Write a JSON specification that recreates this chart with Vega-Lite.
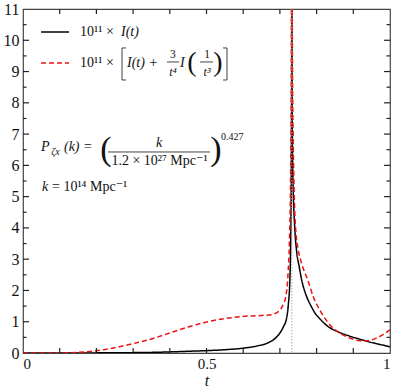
{
  "$schema": "https://vega.github.io/schema/vega-lite/v6.json",
  "width": 367,
  "height": 344,
  "autosize": {"type": "none"},
  "padding": {"left": 23, "top": 9, "right": 8, "bottom": 39},
  "background": "white",
  "config": {
    "view": {"stroke": "#444", "strokeWidth": 1.2},
    "font": "Liberation Serif, DejaVu Serif, serif",
    "axis": {"grid": false, "domain": false, "labelFont": "Liberation Serif, DejaVu Serif, serif", "labelColor": "#111", "titleFont": "Liberation Serif, DejaVu Serif, serif"},
    "text": {"font": "Liberation Serif, DejaVu Serif, serif", "color": "#111"}
  },
  "resolve": {"axis": {"x": "independent", "y": "independent"}},
  "layer": [
    {
      "data": {"values": [
        {"s": "I", "t": 0, "v": 0}, {"s": "I", "t": 0.1, "v": 0.001}, {"s": "I", "t": 0.2, "v": 0.004}, {"s": "I", "t": 0.3, "v": 0.012}, {"s": "I", "t": 0.35, "v": 0.02}, {"s": "I", "t": 0.4, "v": 0.035}, {"s": "I", "t": 0.45, "v": 0.055}, {"s": "I", "t": 0.5, "v": 0.075}, {"s": "I", "t": 0.55, "v": 0.105}, {"s": "I", "t": 0.6, "v": 0.155}, {"s": "I", "t": 0.64, "v": 0.23}, {"s": "I", "t": 0.67, "v": 0.34}, {"s": "I", "t": 0.69, "v": 0.5}, {"s": "I", "t": 0.7, "v": 0.64}, {"s": "I", "t": 0.71, "v": 0.85}, {"s": "I", "t": 0.718, "v": 1.1}, {"s": "I", "t": 0.723, "v": 1.55}, {"s": "I", "t": 0.727, "v": 2.3}, {"s": "I", "t": 0.7295, "v": 3.6}, {"s": "I", "t": 0.731, "v": 5.5}, {"s": "I", "t": 0.732, "v": 9}, {"s": "I", "t": 0.7325, "v": 16}, {"s": "I", "t": 0.733, "v": 10}, {"s": "I", "t": 0.734, "v": 7}, {"s": "I", "t": 0.736, "v": 5.3}, {"s": "I", "t": 0.738, "v": 4.6}, {"s": "I", "t": 0.741, "v": 3.9}, {"s": "I", "t": 0.746, "v": 3.2}, {"s": "I", "t": 0.752, "v": 2.8}, {"s": "I", "t": 0.76, "v": 2.3}, {"s": "I", "t": 0.773, "v": 1.8}, {"s": "I", "t": 0.785, "v": 1.5}, {"s": "I", "t": 0.796, "v": 1.27}, {"s": "I", "t": 0.81, "v": 1.08}, {"s": "I", "t": 0.832, "v": 0.84}, {"s": "I", "t": 0.86, "v": 0.67}, {"s": "I", "t": 0.89, "v": 0.54}, {"s": "I", "t": 0.918, "v": 0.44}, {"s": "I", "t": 0.945, "v": 0.35}, {"s": "I", "t": 0.97, "v": 0.28}, {"s": "I", "t": 1.0, "v": 0.2},
        {"s": "Isym", "t": 0, "v": 0}, {"s": "Isym", "t": 0.1, "v": 0.003}, {"s": "Isym", "t": 0.15, "v": 0.02}, {"s": "Isym", "t": 0.2, "v": 0.07}, {"s": "Isym", "t": 0.25, "v": 0.17}, {"s": "Isym", "t": 0.3, "v": 0.3}, {"s": "Isym", "t": 0.35, "v": 0.45}, {"s": "Isym", "t": 0.4, "v": 0.64}, {"s": "Isym", "t": 0.45, "v": 0.83}, {"s": "Isym", "t": 0.5, "v": 0.99}, {"s": "Isym", "t": 0.55, "v": 1.1}, {"s": "Isym", "t": 0.6, "v": 1.17}, {"s": "Isym", "t": 0.65, "v": 1.2}, {"s": "Isym", "t": 0.68, "v": 1.23}, {"s": "Isym", "t": 0.69, "v": 1.28}, {"s": "Isym", "t": 0.7, "v": 1.37}, {"s": "Isym", "t": 0.71, "v": 1.58}, {"s": "Isym", "t": 0.716, "v": 1.8}, {"s": "Isym", "t": 0.722, "v": 2.5}, {"s": "Isym", "t": 0.7267, "v": 3.9}, {"s": "Isym", "t": 0.729, "v": 5.5}, {"s": "Isym", "t": 0.731, "v": 8.5}, {"s": "Isym", "t": 0.7325, "v": 16}, {"s": "Isym", "t": 0.734, "v": 10}, {"s": "Isym", "t": 0.736, "v": 7}, {"s": "Isym", "t": 0.738, "v": 5.6}, {"s": "Isym", "t": 0.743, "v": 3.95}, {"s": "Isym", "t": 0.75, "v": 3.3}, {"s": "Isym", "t": 0.759, "v": 2.87}, {"s": "Isym", "t": 0.776, "v": 2.33}, {"s": "Isym", "t": 0.791, "v": 1.8}, {"s": "Isym", "t": 0.814, "v": 1.27}, {"s": "Isym", "t": 0.841, "v": 0.84}, {"s": "Isym", "t": 0.86, "v": 0.66}, {"s": "Isym", "t": 0.877, "v": 0.55}, {"s": "Isym", "t": 0.9, "v": 0.44}, {"s": "Isym", "t": 0.918, "v": 0.39}, {"s": "Isym", "t": 0.935, "v": 0.39}, {"s": "Isym", "t": 0.96, "v": 0.46}, {"s": "Isym", "t": 0.98, "v": 0.58}, {"s": "Isym", "t": 1.0, "v": 0.74}
      ]},
      "mark": {"type": "line", "strokeWidth": 1.5, "interpolate": "monotone", "clip": true},
      "encoding": {
        "x": {"field": "t", "type": "quantitative", "scale": {"domain": [0, 1], "nice": false, "zero": false},
              "axis": {"orient": "bottom", "values": [0, 0.5, 1], "format": "~g", "ticks": false, "labelFontSize": 15, "labelPadding": 3, "title": "t", "titleFontStyle": "italic", "titleFontWeight": "normal", "titleFontSize": 16, "titlePadding": 1, "titleColor": "#111"}},
        "y": {"field": "v", "type": "quantitative", "scale": {"domain": [0, 11], "nice": false, "zero": false},
              "axis": {"orient": "left", "values": [0, 1, 2, 3, 4, 5, 6, 7, 8, 9, 10, 11], "format": "d", "ticks": false, "labelFontSize": 16, "labelPadding": 4, "title": null}},
        "color": {"field": "s", "type": "nominal", "scale": {"domain": ["I", "Isym"], "range": ["#000000", "#ee1111"]}, "legend": null},
        "strokeDash": {"field": "s", "type": "nominal", "scale": {"domain": ["I", "Isym"], "range": [[1, 0], [5, 3]]}, "legend": null}
      }
    },
    {
      "data": {"values": [{"t": 0.1}, {"t": 0.2}, {"t": 0.3}, {"t": 0.4}, {"t": 0.5}, {"t": 0.6}, {"t": 0.7}, {"t": 0.8}, {"t": 0.9}]},
      "mark": {"type": "tick", "orient": "vertical", "size": 5, "thickness": 1.2, "color": "#222", "yOffset": -2.5, "opacity": 1},
      "encoding": {
        "x": {"field": "t", "type": "quantitative", "axis": null},
        "y": {"datum": 0, "type": "quantitative", "axis": null}
      }
    },
    {
      "data": {"values": [{"t": 0.1}, {"t": 0.2}, {"t": 0.3}, {"t": 0.4}, {"t": 0.5}, {"t": 0.6}, {"t": 0.7}, {"t": 0.8}, {"t": 0.9}]},
      "mark": {"type": "tick", "orient": "vertical", "size": 5, "thickness": 1.2, "color": "#222", "yOffset": 2.5, "opacity": 1},
      "encoding": {
        "x": {"field": "t", "type": "quantitative", "axis": null},
        "y": {"datum": 11, "type": "quantitative", "axis": null}
      }
    },
    {
      "data": {"values": [{"v": 1}, {"v": 2}, {"v": 3}, {"v": 4}, {"v": 5}, {"v": 6}, {"v": 7}, {"v": 8}, {"v": 9}, {"v": 10}]},
      "mark": {"type": "tick", "orient": "horizontal", "size": 6, "thickness": 1.2, "color": "#222", "xOffset": 3, "opacity": 1},
      "encoding": {
        "x": {"datum": 0, "type": "quantitative", "axis": null},
        "y": {"field": "v", "type": "quantitative", "axis": null}
      }
    },
    {
      "data": {"values": [{"v": 1}, {"v": 2}, {"v": 3}, {"v": 4}, {"v": 5}, {"v": 6}, {"v": 7}, {"v": 8}, {"v": 9}, {"v": 10}]},
      "mark": {"type": "tick", "orient": "horizontal", "size": 6, "thickness": 1.2, "color": "#222", "xOffset": -3, "opacity": 1},
      "encoding": {
        "x": {"datum": 1, "type": "quantitative", "axis": null},
        "y": {"field": "v", "type": "quantitative", "axis": null}
      }
    },
    {
      "data": {"values": [{"v": 0.5}, {"v": 1.5}, {"v": 2.5}, {"v": 3.5}, {"v": 4.5}, {"v": 5.5}, {"v": 6.5}, {"v": 7.5}, {"v": 8.5}, {"v": 9.5}, {"v": 10.5}]},
      "mark": {"type": "tick", "orient": "horizontal", "size": 3.5, "thickness": 1.2, "color": "#222", "xOffset": 1.75, "opacity": 1},
      "encoding": {
        "x": {"datum": 0, "type": "quantitative", "axis": null},
        "y": {"field": "v", "type": "quantitative", "axis": null}
      }
    },
    {
      "data": {"values": [{"v": 0.5}, {"v": 1.5}, {"v": 2.5}, {"v": 3.5}, {"v": 4.5}, {"v": 5.5}, {"v": 6.5}, {"v": 7.5}, {"v": 8.5}, {"v": 9.5}, {"v": 10.5}]},
      "mark": {"type": "tick", "orient": "horizontal", "size": 3.5, "thickness": 1.2, "color": "#222", "xOffset": -1.75, "opacity": 1},
      "encoding": {
        "x": {"datum": 1, "type": "quantitative", "axis": null},
        "y": {"field": "v", "type": "quantitative", "axis": null}
      }
    },
    {
      "data": {"values": [{"t": 0.7325}]},
      "mark": {"type": "rule", "color": "#aaa", "strokeWidth": 1, "strokeDash": [1.5, 1.5]},
      "encoding": {
        "x": {"field": "t", "type": "quantitative", "axis": null}
      }
    },
    {
      "data": {"values": [
        {"t1": 0.049, "t2": 0.1253, "v1": 10.265, "v2": 10.265, "s": "I"},
        {"t1": 0.049, "t2": 0.1253, "v1": 9.274, "v2": 9.274, "s": "Isym"}
      ]},
      "mark": {"type": "rule", "strokeWidth": 1.5},
      "encoding": {
        "x": {"field": "t1", "type": "quantitative", "axis": null}, "x2": {"field": "t2"},
        "y": {"field": "v1", "type": "quantitative", "axis": null}, "y2": {"field": "v2"},
        "color": {"field": "s", "type": "nominal", "legend": null},
        "strokeDash": {"field": "s", "type": "nominal", "legend": null}
      }
    },
    {
      "data": {"values": [
        {"t1": 0.2698, "t2": 0.2698, "v1": 9.754, "v2": 8.73},
        {"t1": 0.2698, "t2": 0.2807, "v1": 9.754, "v2": 9.754},
        {"t1": 0.2698, "t2": 0.2807, "v1": 8.73, "v2": 8.73},
        {"t1": 0.5559, "t2": 0.5559, "v1": 9.754, "v2": 8.73},
        {"t1": 0.545, "t2": 0.5559, "v1": 9.754, "v2": 9.754},
        {"t1": 0.545, "t2": 0.5559, "v1": 8.73, "v2": 8.73},
        {"t1": 0.3924, "t2": 0.4251, "v1": 9.306, "v2": 9.306},
        {"t1": 0.4823, "t2": 0.5177, "v1": 9.306, "v2": 9.306},
        {"t1": 0.2316, "t2": 0.5095, "v1": 6.428, "v2": 6.428}
      ]},
      "mark": {"type": "rule", "color": "#111", "strokeWidth": 0.8},
      "encoding": {
        "x": {"field": "t1", "type": "quantitative", "axis": null}, "x2": {"field": "t2"},
        "y": {"field": "v1", "type": "quantitative", "axis": null}, "y2": {"field": "v2"}
      }
    },
    {
      "data": {"values": [
        {"t": 0.1553, "v": 10.265, "label": "10¹¹ ×"},
        {"t": 0.1553, "v": 9.274, "label": "10¹¹ ×"},
        {"t": 0.079, "v": 5.309, "label": "= 10¹⁴ Mpc⁻¹"}
      ]},
      "mark": {"type": "text", "fontSize": 14, "align": "left", "baseline": "middle"},
      "encoding": {
        "x": {"field": "t", "type": "quantitative", "axis": null},
        "y": {"field": "v", "type": "quantitative", "axis": null},
        "text": {"field": "label"}
      }
    },
    {
      "data": {"values": [
        {"t": 0.267, "v": 10.265, "label": "I(t)"},
        {"t": 0.2834, "v": 9.274, "label": "I(t) +"},
        {"t": 0.4278, "v": 9.274, "label": "I"},
        {"t": 0.049, "v": 6.588, "label": "P"},
        {"t": 0.1117, "v": 6.588, "label": "(k) ="},
        {"t": 0.0518, "v": 5.309, "label": "k"}
      ]},
      "mark": {"type": "text", "fontSize": 14, "fontStyle": "italic", "align": "left", "baseline": "middle"},
      "encoding": {
        "x": {"field": "t", "type": "quantitative", "axis": null},
        "y": {"field": "v", "type": "quantitative", "axis": null},
        "text": {"field": "label"}
      }
    },
    {
      "data": {"values": [
        {"t": 0.3706, "v": 6.716, "label": "k"}
      ]},
      "mark": {"type": "text", "fontSize": 14, "fontStyle": "italic", "align": "center", "baseline": "middle"},
      "encoding": {
        "x": {"field": "t", "type": "quantitative", "axis": null},
        "y": {"field": "v", "type": "quantitative", "axis": null},
        "text": {"field": "label"}
      }
    },
    {
      "data": {"values": [
        {"t": 0.3719, "v": 6.14, "label": "1.2 × 10²⁷ Mpc⁻¹"}
      ]},
      "mark": {"type": "text", "fontSize": 14, "align": "center", "baseline": "middle"},
      "encoding": {
        "x": {"field": "t", "type": "quantitative", "axis": null},
        "y": {"field": "v", "type": "quantitative", "axis": null},
        "text": {"field": "label"}
      }
    },
    {
      "data": {"values": [
        {"t": 0.4087, "v": 9.53, "label": "3"},
        {"t": 0.5014, "v": 9.53, "label": "1"}
      ]},
      "mark": {"type": "text", "fontSize": 11.5, "align": "center", "baseline": "middle"},
      "encoding": {
        "x": {"field": "t", "type": "quantitative", "axis": null},
        "y": {"field": "v", "type": "quantitative", "axis": null},
        "text": {"field": "label"}
      }
    },
    {
      "data": {"values": [
        {"t": 0.4087, "v": 8.99, "label": "t⁴"},
        {"t": 0.5014, "v": 8.99, "label": "t³"}
      ]},
      "mark": {"type": "text", "fontSize": 12, "fontStyle": "italic", "align": "center", "baseline": "middle"},
      "encoding": {
        "x": {"field": "t", "type": "quantitative", "axis": null},
        "y": {"field": "v", "type": "quantitative", "axis": null},
        "text": {"field": "label"}
      }
    },
    {
      "data": {"values": [
        {"t": 0.4605, "v": 9.274, "label": "("},
        {"t": 0.5313, "v": 9.274, "label": ")"}
      ]},
      "mark": {"type": "text", "fontSize": 28, "fontWeight": 300, "align": "center", "baseline": "middle"},
      "encoding": {
        "x": {"field": "t", "type": "quantitative", "axis": null},
        "y": {"field": "v", "type": "quantitative", "axis": null},
        "text": {"field": "label"}
      }
    },
    {
      "data": {"values": [
        {"t": 0.2262, "v": 6.492, "label": "("},
        {"t": 0.5259, "v": 6.492, "label": ")"}
      ]},
      "mark": {"type": "text", "fontSize": 34, "fontWeight": 300, "align": "center", "baseline": "middle"},
      "encoding": {
        "x": {"field": "t", "type": "quantitative", "axis": null},
        "y": {"field": "v", "type": "quantitative", "axis": null},
        "text": {"field": "label"}
      }
    },
    {
      "data": {"values": [
        {"t": 0.5395, "v": 6.907, "label": "0.427"}
      ]},
      "mark": {"type": "text", "fontSize": 10, "align": "left", "baseline": "middle"},
      "encoding": {
        "x": {"field": "t", "type": "quantitative", "axis": null},
        "y": {"field": "v", "type": "quantitative", "axis": null},
        "text": {"field": "label"}
      }
    },
    {
      "data": {"values": [
        {"t": 0.077, "v": 6.42, "label": "ζx"}
      ]},
      "mark": {"type": "text", "fontSize": 10, "fontStyle": "italic", "align": "left", "baseline": "middle"},
      "encoding": {
        "x": {"field": "t", "type": "quantitative", "axis": null},
        "y": {"field": "v", "type": "quantitative", "axis": null},
        "text": {"field": "label"}
      }
    }
  ]
}
